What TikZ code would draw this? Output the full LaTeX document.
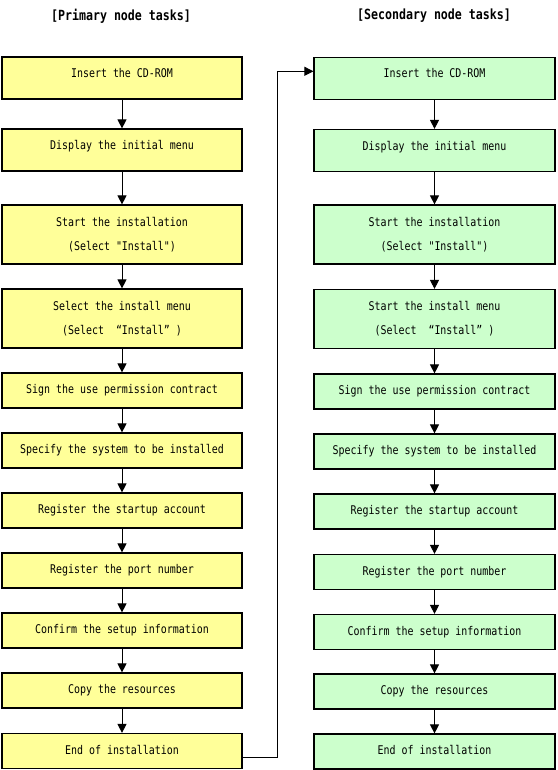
\documentclass[tikz,border=0pt]{standalone}
\usepackage{fontspec}
\usetikzlibrary{arrows.meta}
\newfontfamily\boxfont[FakeStretch=0.83]{DejaVu Sans Mono}
\newfontfamily\titlefont[FakeStretch=0.83]{DejaVu Sans Mono Bold}
\definecolor{priyellow}{HTML}{FFFF99}
\definecolor{secgreen}{HTML}{CCFFCC}
\tikzset{
  task/.style={draw=black, line width=1.2pt, inner sep=0pt, align=center,
    font=\boxfont\fontsize{12}{24}\selectfont},
  prim/.style={task, fill=priyellow, minimum width=240pt},
  sec/.style={task, fill=secgreen, minimum width=241pt},
  tall/.style={minimum height=42pt, text height=8pt, text depth=9pt},
  mid/.style={minimum height=59pt},
  low/.style={minimum height=35pt, text height=8pt, text depth=2pt},
  arr/.style={draw=black, line width=1pt, -{Triangle[length=9pt,width=9pt]}},
  ttl/.style={font=\titlefont\fontsize{14}{16}\selectfont, inner sep=0pt}
}
\begin{document}
\begin{tikzpicture}[x=1pt,y=-1pt]
\useasboundingbox (0,0) rectangle (557,770);
\node[ttl] (tL) at (121,16) {[Primary node tasks]};
\node[ttl] (tR) at (434,16) {[Secondary node tasks]};
% primary
\node[prim,tall] (L1) at (122,78) {Insert the CD-ROM};
\node[prim,tall] (L2) at (122,150) {Display the initial menu};
\node[prim,mid] (L3) at (122,234.5) {Start the installation\\(Select "Install")};
\node[prim,mid] (L4) at (122,318.5) {Select the install menu\\(Select\ \ “Install”\ )};
\node[prim,low] (L5) at (122,390.5) {Sign the use permission contract};
\node[prim,low] (L6) at (122,450.5) {Specify the system to be installed};
\node[prim,low] (L7) at (122,510.5) {Register the startup account};
\node[prim,low] (L8) at (122,570.5) {Register the port number};
\node[prim,low] (L9) at (122,630.5) {Confirm the setup information};
\node[prim,low] (L10) at (122,690.5) {Copy the resources};
\node[prim,low] (L11) at (122,751) {End of installation};
% secondary
\node[sec,tall] (R1) at (434.5,78.5) {Insert the CD-ROM};
\node[sec,tall] (R2) at (434.5,150.5) {Display the initial menu};
\node[sec,mid] (R3) at (434.5,234.5) {Start the installation\\(Select "Install")};
\node[sec,mid] (R4) at (434.5,319) {Start the install menu\\(Select\ \ “Install”\ )};
\node[sec,low] (R5) at (434.5,391.5) {Sign the use permission contract};
\node[sec,low] (R6) at (434.5,451.5) {Specify the system to be installed};
\node[sec,low] (R7) at (434.5,511.5) {Register the startup account};
\node[sec,low] (R8) at (434.5,572) {Register the port number};
\node[sec,low] (R9) at (434.5,632) {Confirm the setup information};
\node[sec,low] (R10) at (434.5,691.5) {Copy the resources};
\node[sec,low] (R11) at (434.5,751.5) {End of installation};
\foreach \a/\b in {1/2,2/3,3/4,4/5,5/6,6/7,7/8,8/9,9/10,10/11}{
  \draw[arr] (L\a) -- (L\b);
  \draw[arr] (R\a) -- (R\b);
}
\coordinate (j1) at (277.7,757);
\coordinate (j2) at (277.7,71.3);
\draw[arr] (L11.east |- j1) -- (j1) -- (j2) -- (R1.west |- j2);
\end{tikzpicture}
\end{document}
